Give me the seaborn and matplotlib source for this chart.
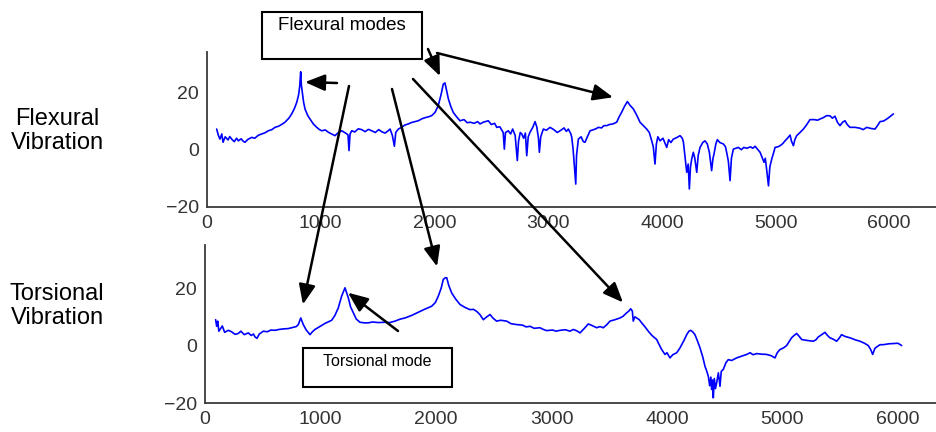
import matplotlib
matplotlib.use("Agg")
import matplotlib.pyplot as plt
import seaborn as sns
from matplotlib.patches import Rectangle

# Spectra (frequency, amplitude)
flex_freq = [85, 100, 114, 130, 141, 160, 185, 200, 217, 240, 260, 276, 300, 320, 334, 360, 393, 420, 450, 481,
             510, 539, 570, 598, 630, 660, 686, 720, 745, 770, 789, 805, 815, 824, 830, 838, 850, 862, 885, 906,
             935, 965, 990, 1009, 1040, 1067, 1095, 1126, 1150, 1185, 1215, 1240, 1249, 1258, 1273, 1300, 1330,
             1361, 1390, 1420, 1449, 1480, 1510, 1540, 1566, 1590, 1610, 1630, 1648, 1660, 1683, 1710, 1740, 1771,
             1800, 1830, 1858, 1890, 1920, 1950, 1976, 2005, 2034, 2060, 2078, 2093, 2108, 2123, 2145, 2166, 2195,
             2225, 2260, 2290, 2313, 2350, 2380, 2401, 2430, 2474, 2500, 2530, 2548, 2575, 2605, 2615, 2625, 2650,
             2670, 2688, 2710, 2729, 2740, 2755, 2768, 2785, 2800, 2812, 2825, 2841, 2865, 2885, 2900, 2915, 2923,
             2935, 2958, 2985, 3017, 3050, 3080, 3105, 3140, 3160, 3178, 3200, 3208, 3220, 3243, 3250, 3266, 3290,
             3310, 3325, 3345, 3369, 3400, 3420, 3442, 3470, 3490, 3515, 3540, 3570, 3603, 3625, 3647, 3670, 3697,
             3720, 3750, 3780, 3808, 3835, 3867, 3890, 3911, 3925, 3940, 3952, 3965, 3984, 4010, 4043, 4060, 4080,
             4101, 4130, 4160, 4180, 4190, 4205, 4219, 4232, 4242, 4252, 4263, 4277, 4290, 4307, 4320, 4336, 4360,
             4380, 4400, 4418, 4428, 4438, 4450, 4459, 4475, 4488, 4510, 4541, 4560, 4570, 4585, 4600, 4612, 4629,
             4650, 4673, 4700, 4720, 4747, 4780, 4800, 4820, 4845, 4864, 4880, 4899, 4910, 4923, 4938, 4950, 4967,
             4980, 4996, 5020, 5040, 5060, 5084, 5105, 5128, 5140, 5157, 5170, 5186, 5210, 5245, 5270, 5303, 5340,
             5370, 5391, 5420, 5450, 5480, 5500, 5523, 5545, 5567, 5590, 5611, 5630, 5655, 5700, 5743, 5770, 5802,
             5840, 5875, 5900, 5919, 5950, 5978, 6005, 6036]
flex_amp = [7.2, 5.0, 3.7, 5.5, 2.6, 4.5, 3.4, 4.6, 3.7, 2.8, 4.0, 3.1, 3.8, 2.9, 2.6, 3.6, 4.3, 4.0, 5.0, 5.5,
            5.9, 6.6, 7.0, 7.8, 8.2, 8.9, 9.6, 11.0, 12.5, 14.5, 16.5, 19.0, 22.0, 27.2, 22.5, 20.0, 16.5, 14.2, 12.0, 10.7,
            9.0, 7.8, 7.0, 6.6, 6.9, 6.1, 5.5, 4.9, 5.8, 6.6, 5.9, 5.2, -0.3, 5.5, 6.6, 6.2, 7.3,
            7.0, 6.3, 7.1, 6.6, 6.0, 7.0, 6.2, 5.8, 6.5, 7.2, 5.0, 1.2, 6.0, 7.2, 7.8, 8.6, 9.0,
            9.5, 9.8, 10.1, 10.8, 11.2, 11.5, 11.9, 13.0, 15.4, 19.5, 22.9, 23.3, 20.5, 17.7, 15.0, 13.0, 11.5,
            10.1, 10.5, 9.4, 9.6, 9.2, 9.8, 9.0, 9.6, 10.1, 8.8, 9.2, 7.8, 8.0, 6.0, 0.2, 6.0, 6.6,
            5.5, 7.2, 5.0, -3.8, 3.0, 6.0, 5.5, 4.0, 5.8, -2.1, 4.5, 6.1, 7.8, 9.8, 8.0, 4.0, -0.9,
            4.5, 7.2, 6.8, 7.8, 7.0, 6.0, 6.6, 7.6, 6.4, 7.2, 5.5, 4.3, 0.0, -12.0, -2.0, 3.7, 4.5,
            2.8, 2.6, 4.5, 6.6, 7.0, 7.3, 7.8, 7.6, 8.4, 8.4, 8.8, 9.0, 9.6, 11.5, 13.1, 15.0, 16.8,
            15.5, 14.2, 12.0, 9.6, 8.5, 7.2, 6.0, 3.1, 1.0, -5.0, 2.0, 4.5, 3.1, 4.0, 0.8, 3.5, 2.5,
            3.7, 4.2, 4.9, 4.0, 2.6, -3.0, -7.9, -5.0, -13.7, -6.0, -3.2, -0.9, -3.0, -7.9, -2.0, 0.8, 2.5,
            3.1, 2.0, -0.9, -4.0, -7.3, -3.0, -1.5, 2.0, 3.5, 2.5, 2.0, 1.0, -0.9, -4.0, -10.8, -3.0, 0.2,
            0.5, 0.8, 0.0, 0.8, 0.5, 1.0, 0.5, 1.2, 0.0, -0.9, -2.5, -4.4, -3.0, -7.3, -12.6, -6.0, -3.2,
            -1.5, 0.8, 1.0, 1.4, 2.0, 3.1, 4.0, 5.1, 3.0, 1.4, 3.5, 4.9, 5.8, 7.2, 8.5, 10.5, 10.5,
            10.3, 10.7, 11.2, 11.9, 11.8, 11.0, 11.7, 9.5, 8.4, 9.6, 10.1, 8.8, 7.8, 7.8, 7.5, 7.0, 7.8,
            7.4, 7.2, 8.6, 9.8, 10.0, 10.7, 11.5, 12.5]

tors_freq = [92, 101, 110, 120, 130, 150, 170, 202, 230, 260, 288, 310, 340, 375, 400, 420, 433, 450, 470, 505,
             540, 570, 606, 640, 680, 720, 750, 790, 808, 829, 840, 851, 875, 895, 909, 930, 952, 990, 1039, 1070,
             1097, 1125, 1154, 1183, 1212, 1225, 1241, 1260, 1284, 1310, 1342, 1380, 1414, 1450, 1500, 1558, 1600,
             1645, 1690, 1732, 1790, 1847, 1900, 1963, 1995, 2020, 2045, 2063, 2080, 2093, 2110, 2136, 2170, 2208,
             2250, 2294, 2325, 2352, 2380, 2410, 2440, 2468, 2495, 2525, 2560, 2612, 2650, 2699, 2750, 2780, 2814,
             2850, 2900, 2930, 2958, 3010, 3040, 3074, 3120, 3160, 3189, 3220, 3247, 3285, 3319, 3350, 3391, 3420,
             3449, 3480, 3506, 3550, 3593, 3620, 3651, 3670, 3686, 3700, 3708, 3722, 3738, 3760, 3781, 3810, 3838,
             3870, 3911, 3930, 3954, 3983, 4000, 4026, 4050, 4084, 4110, 4127, 4150, 4171, 4190, 4205, 4222, 4242,
             4265, 4286, 4310, 4329, 4345, 4358, 4370, 4380, 4387, 4395, 4401, 4410, 4420, 4430, 4445, 4459, 4470,
             4488, 4510, 4531, 4560, 4603, 4640, 4690, 4720, 4745, 4777, 4820, 4863, 4900, 4935, 4955, 4978, 5010,
             5036, 5060, 5079, 5100, 5123, 5145, 5166, 5210, 5267, 5290, 5310, 5340, 5368, 5390, 5411, 5440, 5469,
             5490, 5512, 5540, 5584, 5630, 5671, 5710, 5743, 5765, 5781, 5800, 5815, 5845, 5873, 5920, 5960, 6000,
             6032]
tors_amp = [9.0, 6.7, 8.5, 5.0, 5.6, 6.8, 4.6, 5.3, 4.8, 3.9, 4.2, 5.0, 3.8, 4.4, 3.5, 4.0, 3.0, 2.5, 4.0, 5.0,
            4.8, 5.4, 5.3, 5.6, 5.8, 5.9, 6.2, 6.6, 7.3, 9.6, 8.5, 7.3, 5.5, 4.5, 3.8, 4.8, 5.6, 6.5, 7.7, 8.3,
            8.8, 10.5, 13.1, 17.2, 20.1, 18.5, 16.6, 13.5, 11.4, 9.2, 8.1, 7.9, 7.9, 8.2, 8.0, 8.1, 8.0,
            8.5, 9.2, 9.6, 10.5, 11.6, 12.6, 13.7, 15.0, 17.2, 20.0, 23.0, 23.6, 23.6, 21.0, 18.3, 16.2, 14.3,
            13.3, 12.5, 12.6, 11.9, 10.8, 9.0, 10.0, 10.8, 9.5, 8.5, 8.8, 8.5, 7.6, 7.3, 7.1, 6.5, 6.7,
            6.0, 6.2, 5.6, 5.2, 5.4, 5.0, 5.3, 5.5, 5.0, 5.6, 5.1, 4.4, 6.0, 7.5, 7.0, 6.2, 6.6,
            6.2, 7.3, 8.5, 9.0, 9.6, 10.2, 11.4, 12.0, 12.8, 12.0, 8.5, 10.0, 9.6, 9.0, 7.9, 6.5, 5.0,
            3.5, 2.1, 0.5, -1.4, -3.1, -2.5, -4.3, -3.2, -2.5, -1.0, 0.3, 2.0, 3.8, 5.0, 5.3, 4.8, 3.8,
            1.5, -0.8, -4.0, -7.2, -9.0, -10.7, -14.0, -11.0, -15.3, -12.0, -18.2, -11.5, -15.0, -13.0, -9.5, -14.2, -9.0,
            -8.3, -6.0, -4.9, -5.2, -4.3, -3.8, -3.1, -2.5, -3.2, -2.8, -3.0, -3.1, -3.5, -4.3, -2.5, -1.4, -0.8,
            0.0, 1.5, 2.7, 3.5, 4.2, 3.2, 2.1, 1.8, 1.5, 2.0, 3.0, 3.8, 4.6, 3.5, 2.7, 2.2, 1.5,
            2.5, 3.8, 3.2, 2.7, 2.0, 1.5, 0.8, 0.0, -1.5, -3.1, -1.0, -0.5, 0.3, 0.3, 0.6, 0.7, 0.8,
            0.0]

x_ticks = [0, 1000, 2000, 3000, 4000, 5000, 6000]
y_ticks = [-20, 0, 20]
row_labels = ["Flexural\nVibration", "Torsional\nVibration"]

sns.set_style("white")
plt.rcParams['font.family'] = ['Liberation Sans', 'DejaVu Sans']
plt.rcParams['text.color'] = 'black'

W, H = 937, 432
fig = plt.figure(figsize=(W / 100, H / 100), dpi=100)

# axes placed to match the reference (pixel boxes)
ax_top = fig.add_axes([207 / W, 225 / H, 730 / W, 155 / H])
ax_bot = fig.add_axes([205 / W, 29 / H, 732 / W, 158 / H])

for ax, f, a, xmax, ymax in [(ax_top, flex_freq, flex_amp, 6420, 34.1),
                             (ax_bot, tors_freq, tors_amp, 6338, 35.0)]:
    sns.lineplot(x=f, y=a, ax=ax, color="#0000ff", lw=1.2, estimator=None, sort=False)
    ax.set_xlim(0, xmax)
    ax.set_ylim(-20, ymax)
    ax.set_xticks(x_ticks)
    ax.set_yticks(y_ticks)
    ax.set_facecolor("none")
    sns.despine(ax=ax)
    for s in ["left", "bottom"]:
        ax.spines[s].set_color("#3a3a3a")
        ax.spines[s].set_linewidth(1.3)
    ax.tick_params(direction="in", length=5, width=1.1, color="#3a3a3a",
                   labelsize=14, labelcolor="#333333", pad=6)

fig.text(57 / W, 1 - 131 / H, row_labels[0], ha="center", va="center", fontsize=17, linespacing=1.15)
fig.text(57 / W, 1 - 306 / H, row_labels[1], ha="center", va="center", fontsize=17, linespacing=1.15)

# annotation boxes
fig.add_artist(Rectangle((262 / W, 1 - 59 / H), 160 / W, 47 / H, transform=fig.transFigure,
                         fill=False, ec="black", lw=1.5))
fig.text(342 / W, 1 - 26 / H, "Flexural modes", ha="center", va="center", fontsize=13.5)
fig.add_artist(Rectangle((303 / W, 1 - 387 / H), 149 / W, 39 / H, transform=fig.transFigure,
                         fill=False, ec="black", lw=1.5))
fig.text(377 / W, 1 - 362 / H, "Torsional mode", ha="center", va="center", fontsize=11.5)

arrow = dict(arrowstyle="-|>,head_length=0.6,head_width=0.25", color="black", lw=1.8,
             mutation_scale=20, shrinkA=0, shrinkB=0)

# (axes, head in data coords, tail in figure pixels)
arrows = [
    (ax_top, (862, 23.6), (337, H - 83)),
    (ax_top, (2049, 25.7), (428, H - 49)),
    (ax_top, (3571, 18.3), (437, H - 53)),
    (ax_bot, (848, 14.3), (349, H - 86)),
    (ax_bot, (2009, 27.5), (392, H - 89)),
    (ax_bot, (3619, 15.0), (413, H - 79)),
    (ax_bot, (1238, 18.4), (398, H - 331)),
]
for ax, head, tail in arrows:
    ax.annotate("", xy=head, xycoords="data", xytext=tail, textcoords="figure pixels",
                arrowprops=arrow, annotation_clip=False)

fig.savefig("out.png", dpi=100)
